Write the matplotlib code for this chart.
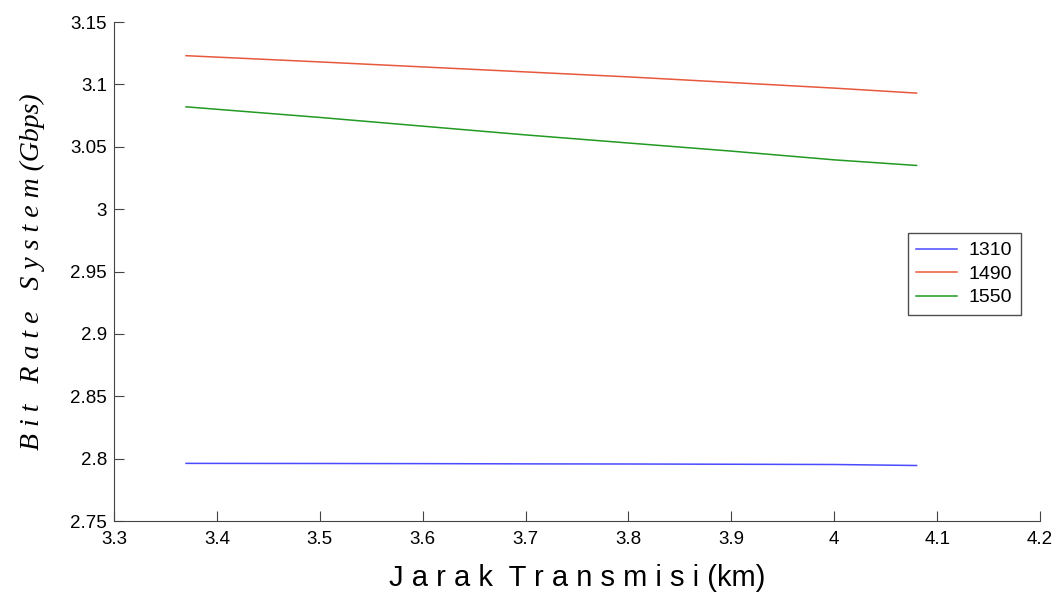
import numpy as np
from matplotlib import pyplot as plt

# Transmission distance (km)
jarak = [3.37, 3.50, 3.60, 3.70, 3.80, 3.90, 4.00, 4.08]

# Bit rate per wavelength (Gbps)
br_1310 = [2.7962, 2.7961, 2.7960, 2.7958, 2.7957, 2.7955, 2.7953, 2.7945]
br_1490 = [3.1230, 3.1180, 3.1140, 3.1100, 3.1060, 3.1015, 3.0970, 3.0930]
br_1550 = [3.0820, 3.0735, 3.0665, 3.0595, 3.0530, 3.0465, 3.0395, 3.0350]

labels = ["1310", "1490", "1550"]
colors = ["#4a4aff", "#e8583c", "#229922"]

fig = plt.figure(figsize=(10.59, 5.93), dpi=100)
ax = fig.add_axes([0.1077, 0.1214, 0.8744, 0.8415])

for y, lab, c in zip([br_1310, br_1490, br_1550], labels, colors):
    ax.plot(jarak, y, color=c, linewidth=1.1, label=lab)

ax.set_xlim(3.3, 4.2)
ax.set_ylim(2.75, 3.15)
ax.set_xticks(np.arange(3.3, 4.21, 0.1))
ax.set_xticklabels(["3.3", "3.4", "3.5", "3.6", "3.7", "3.8", "3.9", "4", "4.1", "4.2"])
ax.set_yticks(np.arange(2.75, 3.151, 0.05))
ax.set_yticklabels(["2.75", "2.8", "2.85", "2.9", "2.95", "3", "3.05", "3.1", "3.15"])

# Matlab-like look: only left and bottom axes, inward ticks
ax.spines["top"].set_visible(False)
ax.spines["right"].set_visible(False)
ax.spines["left"].set_color("#444444")
ax.spines["bottom"].set_color("#444444")
ax.tick_params(direction="in", length=7, color="#444444", labelsize=13.5)
ax.tick_params(axis="x", pad=7)
ax.tick_params(axis="y", pad=5)
for t in ax.get_xticklabels() + ax.get_yticklabels():
    t.set_family("Liberation Sans")

ax.set_xlabel("J a r a k  T r a n s m i s i (km)", fontsize=21, family="Liberation Sans",
              labelpad=12)
ax.set_ylabel("B i t   R a t e   S y s t e m (Gbps)", fontsize=20, family="Liberation Serif",
              style="italic", labelpad=18)

leg = ax.legend(loc="upper right", bbox_to_anchor=(0.9795, 0.577), borderaxespad=0,
                prop={"family": "Liberation Sans", "size": 14},
                frameon=True, fancybox=False, handlelength=2.1, borderpad=0.45,
                labelspacing=0.3, handletextpad=0.6)
leg.get_frame().set_edgecolor("#222222")
leg.get_frame().set_linewidth(1.0)

fig.savefig("out.png", dpi=100)
